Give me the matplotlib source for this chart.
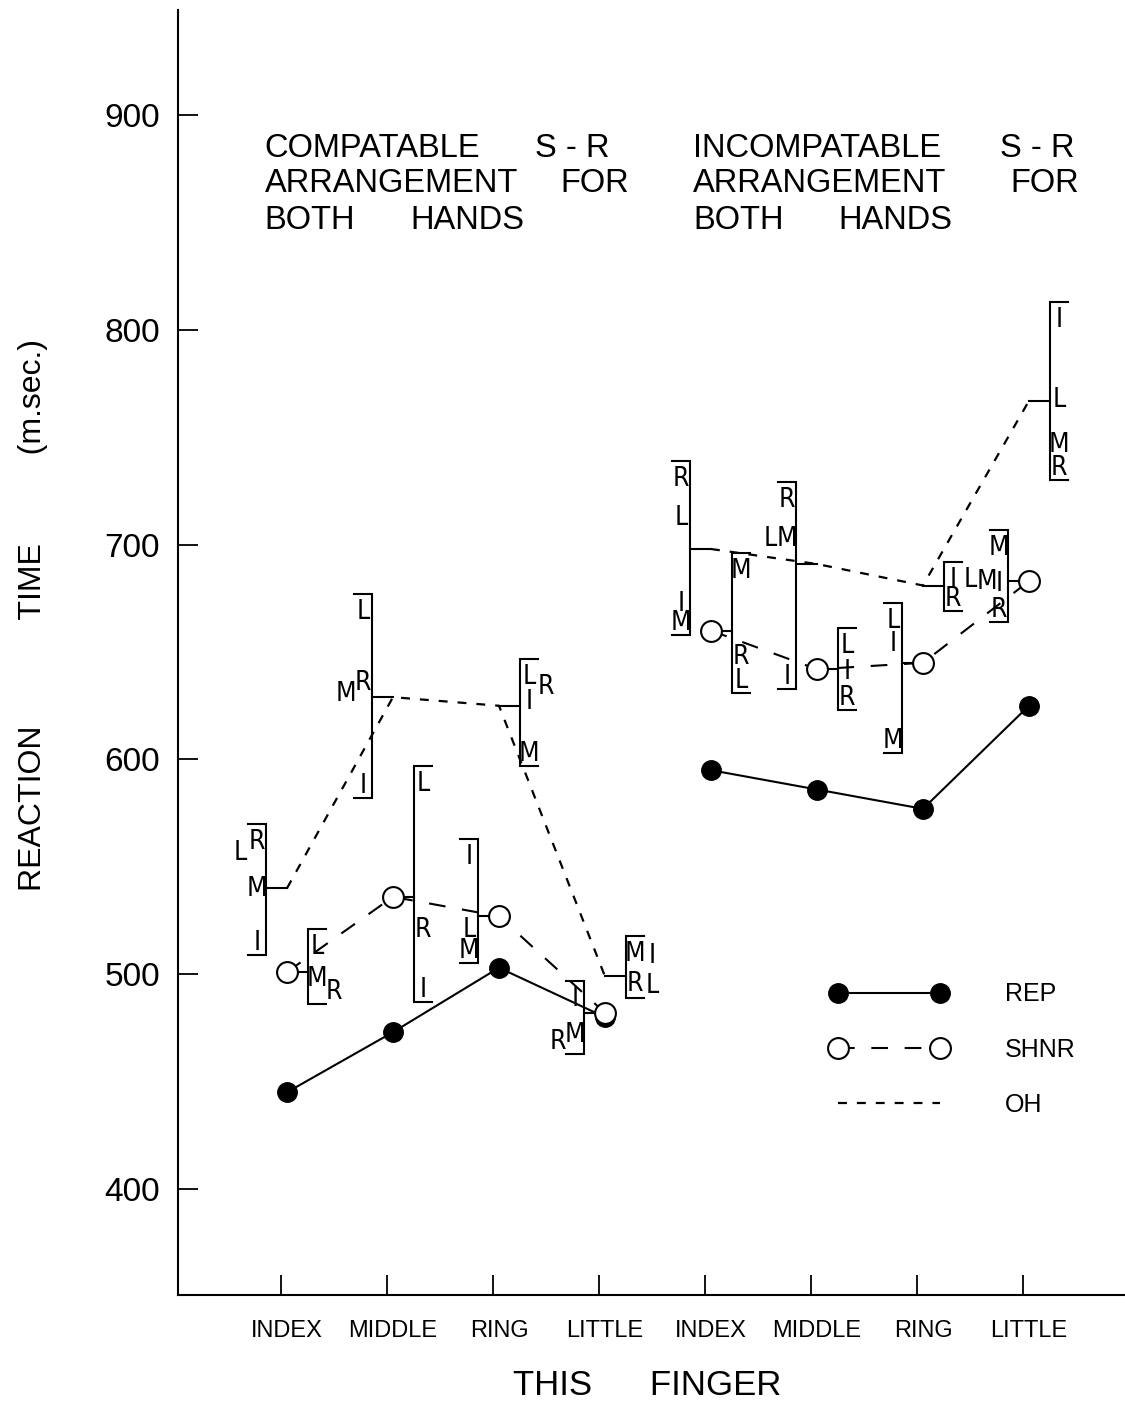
import numpy as np
import matplotlib.pyplot as plt
from matplotlib import font_manager
from matplotlib.font_manager import FontProperties

plt.rcParams['font.family'] = ['Liberation Sans', 'DejaVu Sans']

# narrow face for the small finger letters, if one is installed
narrow = sorted(f.fname for f in font_manager.fontManager.ttflist
                if ('Narrow' in f.fname or 'Condensed' in f.fname)
                and not any(s in f.fname for s in ('Bold', 'Italic', 'Oblique', 'Mono', 'Serif')))
if narrow:
    letter_font = FontProperties(fname=narrow[0], size=19)
else:
    letter_font = FontProperties(family='Liberation Sans', size=16.5)

# fingers along the x axis: compatible arrangement, then incompatible
finger_names = ['INDEX', 'MIDDLE', 'RING', 'LITTLE', 'INDEX', 'MIDDLE', 'RING', 'LITTLE']
x_pos = np.arange(1, 9)

# mean reaction times (m.sec.)
rep_rt = [445, 473, 503, 480, 595, 586, 577, 625]
shnr_rt = [501, 536, 527, 482, 660, 642, 645, 683]
oh_rt = [540, 629, 625, 499, 698, 691, 681, 767]

# OH times split by the preceding finger
oh_by_I = [516, 589, 628, 510, 674, 640, 685, 806]
oh_by_M = [541, 632, 604, 511, 665, 704, 684, 748]
oh_by_R = [563, 637, 635, 497, 732, 722, 676, 737]
oh_by_L = [558, 670, 640, 496, 714, 704, 685, 769]

# SHNR times split by the preceding finger (never the same finger)
shnr_by_I = [None, 494, 556, 490, None, 642, 655, 683]
shnr_by_M = [499, None, 512, 473, 689, None, 610, 700]
shnr_by_R = [493, 522, None, 470, 649, 630, None, 671]
shnr_by_L = [514, 590, 522, None, 638, 654, 666, None]

letters = ['I', 'M', 'R', 'L']

# which side of the point the OH bracket sits on (SHNR goes on the other side)
oh_side = [-1, -1, 1, 1, -1, -1, 1, 1]

fig = plt.figure(figsize=(11.25, 14.09), dpi=100)
ax = fig.add_axes([178 / 1125, 1 - 1295 / 1409, (1125 - 178) / 1125, (1295 - 10) / 1409])


def bracket(x, side, values):
    """Draw a range bracket beside x with the finger letters at their values."""
    pts = [(k, v) for k, v in zip(letters, values) if v is not None]
    vals = [v for _, v in pts]
    lo, hi = min(vals) - 7, max(vals) + 7
    bx = x + side * 0.2
    cap = side * 0.17
    ax.plot([bx + cap, bx, bx, bx + cap], [hi, hi, lo, lo], color='black', lw=1.5,
            solid_joinstyle='miter')
    anchor, slot = None, 0
    for k, v in sorted(pts, key=lambda t: -t[1]):
        if anchor is not None and anchor - v < 7:
            slot += 1
        else:
            anchor, slot = v, 0
        ax.text(bx + side * (0.085 + 0.16 * slot), v, k, ha='center', va='center_baseline',
                fontproperties=letter_font)
    return bx


oh_parts = list(zip(oh_by_I, oh_by_M, oh_by_R, oh_by_L))
shnr_parts = list(zip(shnr_by_I, shnr_by_M, shnr_by_R, shnr_by_L))

for i in range(8):
    bx = bracket(x_pos[i], oh_side[i], oh_parts[i])
    ax.plot([x_pos[i], bx], [oh_rt[i], oh_rt[i]], color='black', lw=1.5)
    bx = bracket(x_pos[i], -oh_side[i], shnr_parts[i])
    ax.plot([x_pos[i], bx], [shnr_rt[i], shnr_rt[i]], color='black', lw=1.5)

# the three conditions, drawn separately for each arrangement
for g in (0, 4):
    s = slice(g, g + 4)
    ax.plot(x_pos[s], rep_rt[s], color='black', lw=1.5, marker='o', ms=14,
            mfc='black', mec='black', label='REP' if g == 0 else None, zorder=4)
    ax.plot(x_pos[s], shnr_rt[s], color='black', lw=1.5, ls=(0, (8, 8)), marker='o', ms=15,
            mfc='white', mec='black', mew=1.5, label='SHNR' if g == 0 else None, zorder=5)
    ax.plot(x_pos[s], oh_rt[s], color='black', lw=1.6, ls=(0, (4, 4.5)),
            label='OH' if g == 0 else None, zorder=3)

# headings over each arrangement
title_words = [
    ('COMPATABLE', 0.79, 880.4), ('S - R', 3.34, 880.4),
    ('ARRANGEMENT', 0.79, 864.1), ('FOR', 3.58, 864.1),
    ('BOTH', 0.79, 846.9), ('HANDS', 2.16, 846.9),
    ('INCOMPATABLE', 4.83, 880.4), ('S - R', 7.73, 880.4),
    ('ARRANGEMENT', 4.83, 864.1), ('FOR', 7.82, 864.1),
    ('BOTH', 4.83, 846.9), ('HANDS', 6.2, 846.9),
]
for word, tx, ty in title_words:
    ax.text(tx, ty, word, ha='left', va='baseline', fontsize=23.5)

ax.set_xlim(-0.028, 8.906)
ax.set_ylim(350.6, 949)

ax.set_xticks(x_pos)
ax.set_xticklabels(finger_names, fontsize=17)
ax.set_xticks(x_pos - 0.06, minor=True)
ax.tick_params(axis='x', which='major', length=0, pad=18)
ax.tick_params(axis='x', which='minor', direction='in', length=14.4, width=1.3)

ax.set_yticks([400, 500, 600, 700, 800, 900])
ax.tick_params(axis='y', direction='in', length=14.4, width=1.3, labelsize=24, pad=13)

for side in ('top', 'right'):
    ax.spines[side].set_visible(False)
for side in ('left', 'bottom'):
    ax.spines[side].set_linewidth(1.5)

ax.set_xlabel('THIS      FINGER', fontsize=25)
ax.xaxis.set_label_coords(0.495, -0.0576)
ax.set_ylabel('REACTION            TIME          (m.sec.)', fontsize=23)
ax.yaxis.set_label_coords(-0.137, 0.529)

ax.legend(loc='upper left', bbox_to_anchor=(0.689, 0.2432), frameon=False, numpoints=2,
          handlelength=4.68, handletextpad=2.3, labelspacing=1.25, borderpad=0,
          borderaxespad=0, fontsize=18)

fig.savefig('out.png', dpi=100, facecolor='white')
